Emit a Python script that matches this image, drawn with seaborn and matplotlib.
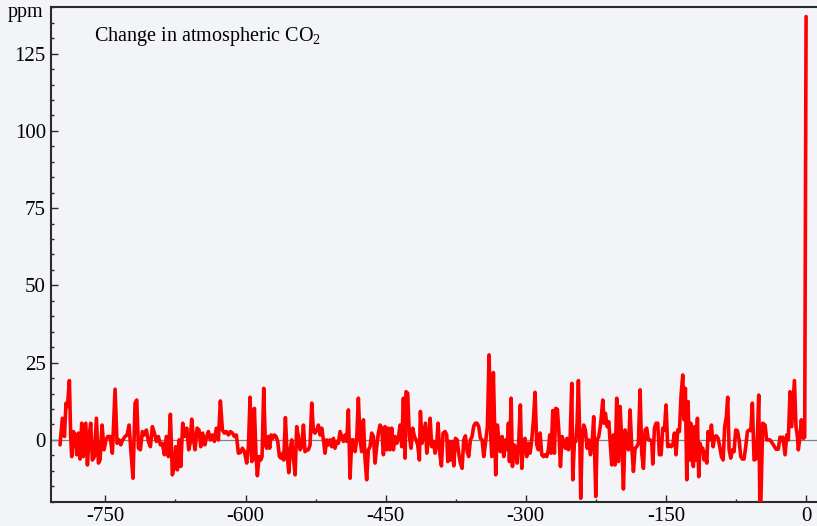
import matplotlib
matplotlib.use("Agg")
import matplotlib.pyplot as plt
from matplotlib.ticker import MultipleLocator
import seaborn as sns
import pandas as pd

# Time axis in thousands of years before present
years = [
    -798.5, -796.0, -793.8, -792.1, -790.6, -788.5, -787.1, -786.0, -784.2, -782.4,
    -780.7, -778.9, -777.1, -775.3, -773.5, -771.0, -769.2, -767.4, -765.7, -763.9,
    -761.7, -759.6, -757.4, -755.7, -753.5, -751.4, -749.3, -747.5, -745.0, -742.5,
    -739.6, -737.5, -735.3, -733.5, -731.4, -728.9, -726.8, -724.6, -722.5, -720.4,
    -718.2, -716.4, -714.6, -712.5, -710.4, -708.2, -706.1, -703.9, -701.8, -699.7,
    -697.5, -695.4, -693.3, -691.1, -689.0, -686.8, -684.7, -682.5, -680.4, -678.3,
    -676.1, -674.7, -672.9, -671.1, -669.3, -667.2, -665.0, -662.9, -660.8, -659.3,
    -657.6, -655.4, -654.0, -651.8, -649.7, -647.9, -645.8, -643.6, -641.5, -639.7,
    -637.6, -635.4, -633.3, -631.2, -629.0, -626.9, -624.7, -622.6, -620.5, -618.3,
    -616.2, -614.0, -611.9, -609.8, -607.6, -605.5, -603.3, -601.2,
    -598.7, -596.9, -595.1, -593.3, -592.3, -590.5, -588.7, -587.3, -585.5, -583.7,
    -582.3, -580.5, -578.7, -577.3, -575.9, -574.1, -572.6, -570.9, -569.1, -567.3,
    -565.5, -563.7, -561.9, -560.2, -559.1, -557.3, -555.5, -553.7, -551.9, -550.5,
    -548.7, -546.9, -545.2, -543.4, -541.6, -539.8, -538.0, -536.3, -534.5, -532.7,
    -530.9, -529.1, -527.3, -525.6, -523.8, -522.0, -520.2, -518.4, -516.6, -514.9,
    -513.1, -511.3, -509.5, -507.7, -505.9, -504.2, -502.4, -500.6, -498.8, -497.0,
    -495.2, -493.5, -491.7, -489.9, -488.1, -486.3, -484.5, -482.7, -481.0, -479.2,
    -477.4, -475.6, -473.8, -472.0, -470.3, -468.5, -466.7, -464.9, -463.1, -461.3,
    -459.6, -457.8, -456.0, -454.2, -452.4, -450.6, -448.8, -447.1, -445.3, -443.5,
    -441.7, -439.9, -438.1, -436.4, -434.6, -432.8, -431.0, -429.2, -428.2, -426.4,
    -424.6, -422.8, -421.0, -419.2, -417.4, -415.7, -413.9, -412.8, -411.0, -409.2,
    -407.4,
    -406.0, -404.2, -402.4, -400.7, -398.9, -397.1, -395.3, -393.9, -392.1, -390.3,
    -388.5, -386.4, -384.6, -383.5, -382.1, -380.3, -378.5, -377.1, -375.3, -373.5,
    -371.8, -370.0, -368.2, -366.4, -364.6, -362.8, -361.1, -359.3, -357.5, -355.7,
    -353.9, -352.1, -350.4, -348.6, -346.8, -345.0, -343.2, -341.1, -339.3, -337.5,
    -336.4, -334.7, -333.6, -332.2, -330.4, -328.6, -327.2, -325.4, -323.6, -321.8,
    -320.0, -318.6, -317.5, -315.7, -314.3, -312.5, -310.8, -309.3, -307.5, -305.8,
    -304.3, -302.2, -300.8, -299.0, -297.2, -295.4, -293.6, -291.8, -290.1, -288.3,
    -286.5, -284.7, -282.9, -281.1, -279.4, -277.6, -275.8, -274.4, -272.9, -271.1,
    -269.4, -267.9, -266.2, -264.7, -262.9, -261.2, -259.4, -257.6, -255.8, -254.4,
    -252.6, -250.8, -249.7, -247.9, -246.5, -245.1, -243.7, -242.2, -241.2, -239.7,
    -238.0, -236.2, -234.4, -232.6, -230.8, -229.0, -227.3, -225.1, -223.7, -221.9,
    -219.8, -217.6, -216.2, -214.8, -213.0, -211.2,
    -208.0, -206.2, -204.4, -202.7, -200.9, -199.1, -197.3, -195.5, -193.7, -192.0,
    -190.2, -188.4, -186.6, -184.8, -183.0, -181.3, -179.5, -177.7, -175.9, -174.1,
    -172.3, -170.6, -168.8, -167.0, -165.2, -164.1, -162.3, -160.6, -158.8, -157.0,
    -155.2, -153.4, -151.6, -149.9, -148.1, -146.3, -144.5, -142.7, -140.9, -139.2,
    -137.4, -135.6, -133.8, -132.0, -130.6, -129.2, -127.7, -126.3, -124.9, -123.5,
    -122.0, -120.6, -119.2, -117.7, -116.3, -114.9, -113.5, -112.0, -110.6, -109.2,
    -107.8, -106.3, -104.9, -103.1, -101.3, -99.5, -97.8, -96.0, -94.2, -92.4,
    -90.6, -88.8, -87.1, -85.3, -83.9, -82.4, -80.6, -78.9, -77.1, -75.3,
    -73.5, -71.7, -69.9, -68.2, -66.4, -64.6, -62.8, -61.0, -59.2, -57.5,
    -55.7, -53.9, -52.1, -50.7, -49.2,
    -46.4, -43.9, -42.2, -38.6, -35.0, -32.2, -29.7, -27.9, -26.1, -25.0,
    -22.5, -20.7, -19.0, -17.2, -15.4, -12.5, -10.8, -9.3, -8.3, -6.5,
    -5.1, -2.9, -1.5, 0.0,
]

# Change in atmospheric CO2 (ppm)
co2_change = [
    -1.6, 7.0, 1.1, 11.9, 10.8, 19.2, 1.1, -5.4, 2.7, 1.6,
    -4.8, 2.2, -6.2, 5.4, -5.4, 5.4, -8.1, 1.1, 5.4, -6.5,
    -5.4, 7.0, -7.5, -6.5, 4.8, -3.2, 0.0, 1.1, 1.1, -4.3,
    16.4, -1.1, 0.0, -1.6, 0.0, 1.1, 1.6, 4.8, -4.3, -12.4,
    11.9, 12.9, -2.7, -3.2, 2.7, 1.6, 3.2, -0.5, -2.2, 4.3,
    2.2, -0.5, 1.1, -1.6, -1.1, -4.8, 1.1, -5.4, 8.3, -11.3,
    -8.6, -2.2, -9.7, 0.0, -8.6, 5.4, 1.1, 3.8, -3.2, -1.1,
    6.7, -0.5, -3.2, 3.8, 3.2, -2.2, 2.2, -1.6, 1.1, 2.7,
    0.0, 1.6, -0.5, 3.8, 0.0, 12.6, 3.2, 2.2, 2.7, 1.6,
    2.7, 2.2, 1.1, 1.6, -4.3, -4.1, -2.7, -3.8,
    -7.5, -2.2, 13.8, -7.0, -6.5, 10.2, -5.4, -11.6, -5.4, -6.5,
    -5.4, 16.7, -1.6, -2.7, 1.1, -2.7, 1.6, 0.5, 1.6, 1.1,
    -0.5, -5.4, -5.9, -4.3, -6.5, 7.2, -4.3, -10.6, -2.7, 0.0,
    -5.9, -11.3, 4.3, 1.1, -3.2, -2.2, 4.8, -3.8, -3.2, -3.2,
    -1.6, 11.9, 2.7, 2.2, 3.2, 4.8, 1.6, 3.8, 0.0, -4.3,
    0.0, -1.6, 0.0, -2.2, 0.5, -2.7, -0.5, -1.1, 2.7, 1.1,
    -0.5, 1.6, -0.5, 9.7, -12.4, 0.0, 0.0, -3.8, 0.0, 13.5,
    0.0, -3.8, 6.5, -6.5, -12.9, -3.2, -2.2, 2.2, 1.1, -7.5,
    -2.2, 2.2, 4.8, 3.8, -4.8, 4.3, -3.2, 3.8, -3.2, 3.8,
    -3.2, 1.1, -1.1, 0.5, 4.8, -2.2, 13.5, -5.9, 15.6, 15.1,
    1.1, -2.7, 3.8, 1.1, 0.0, -1.6, -6.5, 9.2, -1.1, 2.2,
    5.4,
    -4.3, 0.0, 7.0, -2.2, -0.5, -4.3, -1.1, 5.4, -4.3, -8.4,
    2.2, 2.7, 1.6, -7.0, -0.5, -6.5, -0.5, -8.4, 0.5, 0.0,
    -4.3, -7.5, -9.2, 0.0, 1.3, -3.8, -5.4, 0.0, 1.1, 4.5,
    5.4, 5.4, 4.3, 0.5, 0.0, -5.4, -1.1, 4.3, 27.5, 1.1,
    -5.4, 21.8, 7.5, -11.3, 4.8, -1.1, -3.8, 1.1, -5.4, 0.0,
    -3.2, 5.4, -7.0, 13.5, -8.6, -1.6, -2.7, -7.5, 0.0, 11.3,
    -9.2, 0.0, 0.5, -5.4, -1.1, -4.3, 0.0, 6.5, 15.4, -1.6,
    -3.2, 2.2, -4.8, -5.4, -4.8, -5.4, -3.2, 1.6, -4.3, 9.5,
    -4.3, 10.2, 9.9, 3.2, -8.6, 1.1, -0.5, -2.7, 0.5, -3.2,
    0.0, 18.3, -12.9, 0.0, -0.5, 5.4, 19.2, 0.0, -18.9, 0.0,
    4.8, 3.2, -2.7, 0.0, -4.8, -1.1, 7.5, -18.3, 0.0, 1.1,
    5.4, 12.9, 5.4, 8.6, 4.3, 5.9,
    -8.1, 1.6, -8.1, 13.5, -7.0, 10.8, 0.0, -15.9, 3.2, -1.1,
    -3.2, 9.7, -2.2, -10.2, -2.7, -2.2, -1.1, 16.2, -4.3, -9.2,
    3.2, 3.8, 0.0, 0.0, -0.5, -7.8, 3.8, 5.4, 5.4, -4.8,
    -4.8, 3.8, 3.2, 11.3, -2.2, -1.6, -2.2, -1.6, 2.2, -4.8,
    3.2, 2.7, 14.5, 21.0, 6.5, 16.7, -12.9, 12.4, -6.5, 5.4,
    -6.5, -8.6, 4.3, -6.5, 7.0, -11.9, -1.1, -3.2, -2.7, -6.5,
    -3.8, -7.5, 2.7, 0.0, 4.8, -2.2, 1.1, 1.3, 0.5, -2.2,
    -5.4, -6.5, 4.3, 7.5, 13.8, -3.2, -5.9, -3.2, -3.8, 3.2,
    3.0, 0.0, -5.4, -6.2, -6.2, -2.2, 2.7, 3.2, 3.0, 11.9,
    -6.5, -6.2, 1.1, 14.5, -30.0,
    5.4, 4.8, 0.0, 0.0, -1.6, -3.0, -3.0, 0.9, 0.0, 0.9,
    -4.8, 1.6, 0.0, 15.6, 4.3, 19.2, 4.3, 1.1, -3.2, 1.1,
    6.5, 0.5, 0.9, 137.0,
]

x_ticks = [-750, -600, -450, -300, -150, 0]
y_ticks = [0, 25, 50, 75, 100, 125]

BG = "#f2f4f8"
INK = "#2b2b2b"

sns.set_theme(style="ticks")
plt.rcParams.update({
    "font.family": ["Liberation Serif", "DejaVu Serif"],
    "mathtext.fontset": "custom",
    "mathtext.rm": "Liberation Serif",
    "mathtext.default": "regular",
    "axes.unicode_minus": False,
    "figure.facecolor": BG,
    "axes.facecolor": BG,
})

W, H = 817, 526
fig = plt.figure(figsize=(W / 100, H / 100), dpi=100)
left_px, right_px, top_px, bottom_px = 50.7, 817.3, 7.3, 501.7
ax = fig.add_axes([left_px / W, 1 - bottom_px / H,
                   (right_px - left_px) / W, (bottom_px - top_px) / H])

df = pd.DataFrame({"year": years, "co2": co2_change})
ax.axhline(0, color="#808080", lw=0.9, zorder=1)
sns.lineplot(data=df, x="year", y="co2", ax=ax, color="#ff0000",
             linewidth=2.6, zorder=3, estimator=None, sort=False)

ax.set_xlim(-808.5, 12)
ax.set_ylim(-20, 140)
ax.set_xticks(x_ticks)
ax.set_xticklabels([str(v) for v in x_ticks])
ax.set_yticks(y_ticks)
ax.set_yticklabels([str(v) for v in y_ticks])
ax.xaxis.set_minor_locator(MultipleLocator(75))
ax.yaxis.set_minor_locator(MultipleLocator(5))
ax.tick_params(axis="both", which="major", direction="in", length=4.8,
               width=1.0, color=INK, labelsize=15, labelcolor="black", pad=3.5)
ax.tick_params(axis="both", which="minor", direction="in", length=2.4,
               width=1.0, color=INK)
ax.set_xlabel("")
ax.set_ylabel("")

for side in ("left", "bottom", "top"):
    ax.spines[side].set_color(INK)
    ax.spines[side].set_linewidth(1.5)
ax.spines["right"].set_visible(False)

ax.text(0.0565, 0.932, "Change in atmospheric CO$_2$", transform=ax.transAxes,
        fontsize=14.5, ha="left", va="baseline", color="black")
fig.text(8 / W, 1 - 17 / H, "ppm", fontsize=14.5, ha="left", va="baseline",
         color="black")

fig.savefig("out.png", dpi=100, facecolor=BG)
